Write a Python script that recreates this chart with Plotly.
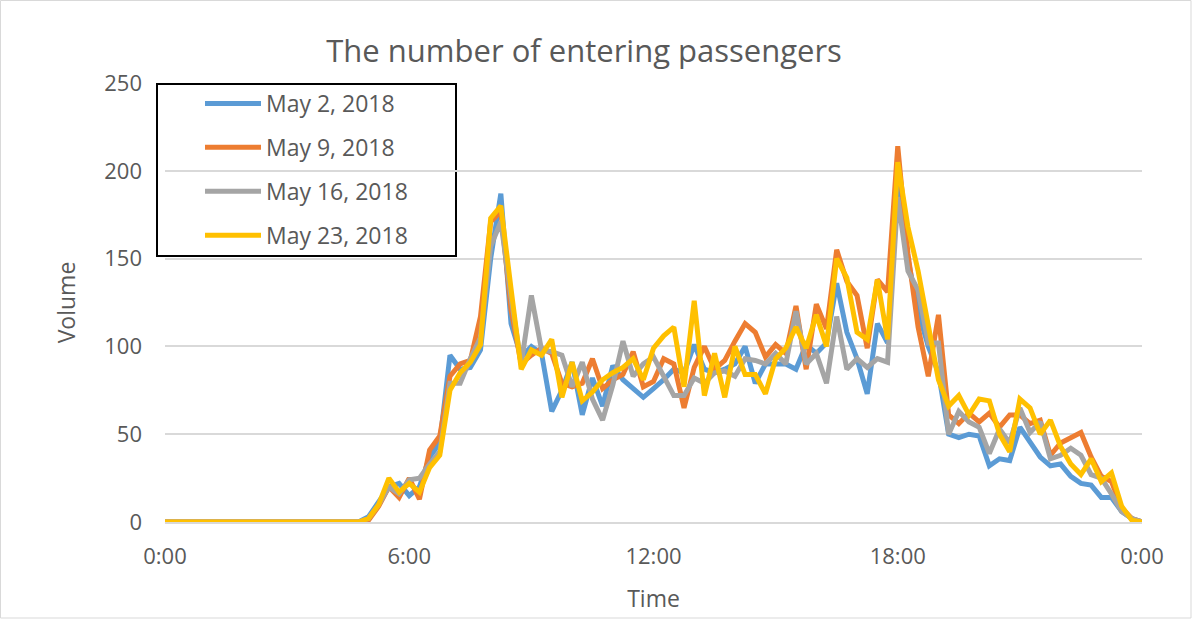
import plotly.graph_objects as go

# Quarter-hour slots over the day (0:00 .. 24:00), values in passengers
hours = [i * 0.25 for i in range(97)]

may_02 = [0] * 20 + [
    3, 12, 20, 22, 15, 20, 37, 45, 95, 87, 88, 98, 150, 187, 113, 94,
    100, 96, 63, 75, 91, 61, 82, 66, 89, 81, 76, 71, 76, 81, 87, 85,
    101, 87, 85, 87, 90, 100, 79, 90, 90, 90, 87, 101, 96, 102, 136, 108,
    93, 73, 113, 102, 192, 150, 120, 100, 85, 50, 48, 50, 49, 32, 36, 35,
    54, 46, 37, 32, 33, 26, 22, 21, 14, 14, 6, 2, 0]

may_09 = [0] * 20 + [
    1, 9, 20, 14, 25, 13, 41, 49, 83, 90, 92, 117, 171, 177, 121, 90,
    95, 99, 96, 79, 77, 79, 93, 76, 81, 84, 97, 77, 80, 93, 90, 65,
    88, 100, 87, 92, 103, 113, 108, 94, 101, 96, 123, 87, 124, 110, 155, 137,
    129, 99, 138, 131, 214, 153, 111, 83, 118, 61, 56, 62, 57, 62, 54, 61,
    61, 56, 58, 38, 45, 48, 51, 37, 26, 23, 8, 2, 0]

may_16 = [0] * 20 + [
    2, 10, 20, 16, 24, 25, 33, 40, 79, 79, 93, 105, 157, 171, 128, 90,
    129, 98, 97, 95, 77, 91, 70, 58, 78, 103, 83, 90, 94, 83, 72, 72,
    82, 79, 85, 86, 83, 93, 92, 90, 96, 90, 120, 90, 96, 79, 117, 87,
    93, 88, 93, 91, 185, 143, 132, 102, 102, 50, 63, 57, 54, 39, 53, 45,
    65, 51, 57, 36, 38, 42, 38, 27, 25, 16, 6, 2, 0]

may_23 = [0] * 20 + [
    2, 10, 25, 17, 22, 17, 31, 38, 75, 85, 91, 101, 173, 180, 133, 87,
    98, 95, 104, 71, 91, 69, 74, 81, 85, 88, 93, 81, 99, 106, 111, 77,
    126, 72, 96, 71, 100, 84, 84, 73, 93, 99, 111, 99, 118, 100, 150, 139,
    108, 104, 138, 104, 205, 168, 143, 111, 81, 66, 72, 61, 70, 69, 50, 40,
    70, 65, 50, 58, 43, 33, 27, 36, 23, 28, 9, 1, 0]

series_names = ["May 2, 2018", "May 9, 2018", "May 16, 2018", "May 23, 2018"]
series_values = [may_02, may_09, may_16, may_23]
series_colors = ["#5B9BD5", "#ED7D31", "#A5A5A5", "#FFC000"]

tick_vals = [0, 6, 12, 18, 24]
tick_text = ["0:00", "6:00", "12:00", "18:00", "0:00"]

FONT = "Open Sans"
GREY_TEXT = "#595959"

fig = go.Figure()
for name, vals, col in zip(series_names, series_values, series_colors):
    fig.add_trace(go.Scatter(
        x=hours, y=vals, name=name, mode="lines", legendgroup=name,
        line=dict(color=col, width=5, shape="linear"),
    ))

fig.update_layout(
    width=1192, height=619,
    margin=dict(l=165, r=50, t=83, b=97),
    paper_bgcolor="white", plot_bgcolor="white",
    font=dict(family=FONT, color=GREY_TEXT, size=22),
    title=dict(
        text="The number of entering passengers",
        font=dict(family=FONT, size=31, color=GREY_TEXT),
        x=0.49, xref="container", xanchor="center",
        y=1 - 51 / 619, yref="container", yanchor="middle",
    ),
    xaxis=dict(
        range=[0, 24], tickvals=tick_vals, ticktext=tick_text,
        showgrid=False, zeroline=False,
        showline=True, linecolor="#D9D9D9", linewidth=1.5,
        ticks="", ticklabelstandoff=14,
        tickfont=dict(size=22, color=GREY_TEXT),
        title=dict(text="Time", font=dict(size=23, color=GREY_TEXT), standoff=22),
    ),
    yaxis=dict(
        range=[0, 250], dtick=50,
        showgrid=True, gridcolor="#D9D9D9", gridwidth=1.5,
        zeroline=False, showline=False, ticks="",
        ticklabelstandoff=22,
        tickfont=dict(size=22, color=GREY_TEXT),
        title=dict(text="Volume", font=dict(size=23, color=GREY_TEXT), standoff=22),
    ),
    legend=dict(
        x=(200 - 165) / 977, y=(522 - 82) / 439,
        xanchor="left", yanchor="top",
        bgcolor="rgba(0,0,0,0)", borderwidth=0,
        font=dict(size=23, color=GREY_TEXT),
        itemwidth=56, tracegroupgap=11,
    ),
    showlegend=True,
    shapes=[
        # legend frame
        dict(type="rect", xref="paper", yref="paper",
             x0=(157 - 165) / 977, x1=(456 - 165) / 977,
             y0=(522 - 256) / 439, y1=(522 - 84) / 439,
             line=dict(color="black", width=2), fillcolor="white", layer="below"),
        # chart frame
        dict(type="rect", xref="paper", yref="paper",
             x0=(0.5 - 165) / 977, x1=(1191 - 165) / 977,
             y0=(522 - 618) / 439, y1=(522 - 0.5) / 439,
             line=dict(color="#D9D9D9", width=1), layer="below"),
    ],
)

fig.write_html("out.html")
